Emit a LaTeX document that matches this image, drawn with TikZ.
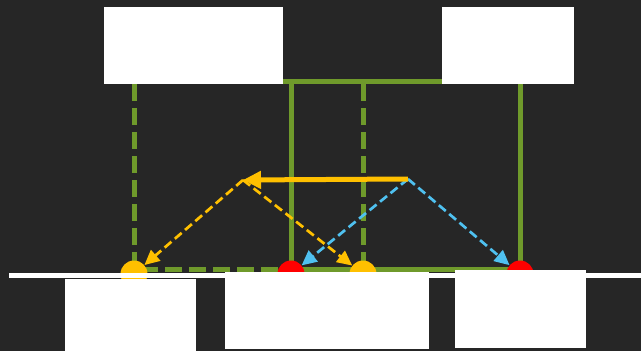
\documentclass[tikz,border=0pt]{standalone}
\usetikzlibrary{arrows.meta}
\definecolor{bgdark}{HTML}{262626}
\definecolor{grass}{HTML}{6F9A2B}
\definecolor{amber}{HTML}{FFC000}
\definecolor{sky}{HTML}{4FC1F0}
\begin{document}
\begin{tikzpicture}[x=1pt, y=-1pt,
  wire/.style={grass, line width=5pt},
  dwire/.style={wire, dash pattern=on 17pt off 7pt},
  panel/.style={fill=white, inner sep=0pt},
  blob/.style={circle, inner sep=0pt, minimum size=27pt},
  ray/.style={line width=2.7pt, dash pattern=on 9pt off 4.5pt, -{Triangle[length=15pt, width=14pt]}},
  beam/.style={amber, line width=5pt, -{Triangle[length=18pt, width=17pt]}}]
  \fill[bgdark] (0,0) rectangle (641,351);
  \useasboundingbox (0,0) rectangle (641,351);
  % frame lines
  \draw[wire] (134,81) -- (520,81);
  \draw[dwire] (134,84) -- (134,269) -- (291,269);
  \draw[wire] (291,81) -- (291,269) -- (520,269) -- (520,81);
  \draw[dwire] (363,84) -- (363,269);
  \node[blob, fill=amber] (ya) at (134,274) {};
  \node[blob, fill=red] (ra) at (291,274) {};
  \node[blob, fill=amber] (yb) at (363,274) {};
  \node[blob, fill=red] (rb) at (520,274) {};
  \fill[white] (9,273) rectangle (641,278);
  \node[panel, minimum width=179pt, minimum height=77pt] (tl) at (193.5,45.5) {};
  \node[panel, minimum width=132pt, minimum height=77pt] (tr) at (508,45.5) {};
  \node[panel, minimum width=131pt, minimum height=73pt] (bl) at (130.5,315.5) {};
  \node[panel, minimum width=204pt, minimum height=77pt] (bm) at (327,310.5) {};
  \node[panel, minimum width=131pt, minimum height=78pt] (br) at (520.5,309) {};
  % rays
  \coordinate (hitA) at (243,180);
  \coordinate (hitB) at (408,179);
  \draw[ray, amber] (hitA) -- (ya);
  \draw[ray, amber] (hitA) -- (yb);
  \draw[ray, sky] (hitB) -- (ra);
  \draw[ray, sky] (hitB) -- (rb);
  \draw[beam] (hitB) -- (hitA);
\end{tikzpicture}
\end{document}
